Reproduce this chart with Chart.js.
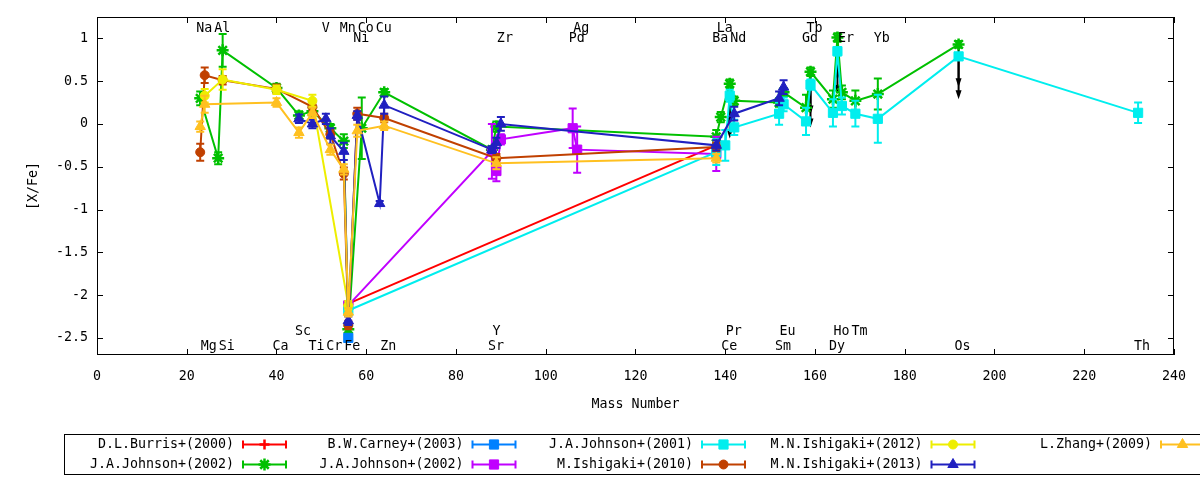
<!DOCTYPE html>
<html lang="en">
<head>
<meta charset="UTF-8">
<title>[X/Fe] vs Mass Number</title>
<script src="https://cdn.jsdelivr.net/npm/chart.js"></script>
<style>
  body { margin: 0; background: #fff; }
  #wrap { width: 1200px; height: 480px; }
</style>
</head>
<body>
<div id="wrap"><canvas id="myChart"></canvas></div>
<script>
// ---- data ----
const xTickVals = [0, 20, 40, 60, 80, 100, 120, 140, 160, 180, 200, 220, 240];
const yTickVals = [1, 0.5, 0, -0.5, -1, -1.5, -2, -2.5];

const burrisMass = [56, 138];
const burrisVal = [-2.10, -0.25];
const burrisErr = [0.03, 0.03];

const johnson02aMass = [23, 27, 28, 40, 45, 48, 52, 55, 56, 59, 64, 88, 89, 138, 139, 141, 142, 152, 153, 158, 159, 164, 165, 166, 169, 174, 192];
const johnson02aVal = [0.30, -0.40, 0.86, 0.42, 0.10, 0.15, -0.05, -0.20, -2.40, -0.05, 0.37, -0.30, -0.03, -0.15, 0.08, 0.47, 0.27, 0.25, 0.37, 0.19, 0.61, 0.29, 1.01, 0.37, 0.27, 0.35, 0.93];
const johnson02aErr = [0.08, 0.07, 0.19, 0.05, 0.05, 0.05, 0.05, 0.08, 0.04, 0.36, 0.04, 0.04, 0.06, 0.08, 0.06, 0.05, 0.05, 0.05, 0.05, 0.15, 0.05, 0.10, 0.05, 0.08, 0.12, 0.18, 0.04];

const carneyMass = [56];
const carneyVal = [-2.50];
const carneyErr = [0.04];

const johnson02bMass = [56, 88, 89, 90, 106, 107, 138];
const johnson02bVal = [-2.12, -0.32, -0.55, -0.18, -0.05, -0.30, -0.35];
const johnson02bErr = [0.05, 0.32, 0.12, 0.06, 0.23, 0.27, 0.20];

const johnson01Mass = [56, 138, 140, 141, 142, 152, 153, 158, 159, 164, 165, 166, 169, 174, 192, 232];
const johnson01Val = [-2.18, -0.33, -0.25, 0.33, -0.04, 0.12, 0.23, 0.03, 0.46, 0.13, 0.85, 0.21, 0.12, 0.06, 0.79, 0.13];
const johnson01Err = [0.03, 0.15, 0.18, 0.07, 0.09, 0.13, 0.08, 0.16, 0.06, 0.16, 0.05, 0.10, 0.15, 0.28, 0.04, 0.12];

const ishi10Mass = [23, 24, 28, 40, 48, 52, 55, 56, 58, 64, 89, 138];
const ishi10Val = [-0.33, 0.57, 0.51, 0.41, 0.20, -0.12, -0.58, -2.35, 0.12, 0.07, -0.40, -0.27];
const ishi10Err = [0.10, 0.09, 0.05, 0.05, 0.05, 0.05, 0.07, 0.05, 0.07, 0.05, 0.05, 0.05];

const ishi12Mass = [24, 28, 40, 48, 56];
const ishi12Val = [0.33, 0.52, 0.40, 0.27, -2.12];
const ishi12Err = [0.08, 0.12, 0.05, 0.07, 0.05];

const ishi13Mass = [45, 48, 51, 52, 55, 56, 58, 63, 64, 88, 89, 90, 138, 142, 152, 153];
const ishi13Val = [0.06, 0.00, 0.06, -0.14, -0.32, -2.30, 0.10, -0.93, 0.22, -0.30, -0.22, 0.00, -0.25, 0.12, 0.30, 0.43];
const ishi13Err = [0.05, 0.05, 0.06, 0.09, 0.10, 0.05, 0.05, 0.03, 0.10, 0.04, 0.06, 0.08, 0.06, 0.08, 0.08, 0.08];

const zhangMass = [23, 24, 40, 45, 48, 52, 55, 56, 58, 64, 89, 138];
const zhangVal = [-0.03, 0.23, 0.25, -0.10, 0.13, -0.30, -0.53, -2.20, -0.08, -0.02, -0.46, -0.40];
const zhangErr = [0.06, 0.10, 0.05, 0.06, 0.06, 0.06, 0.06, 0.05, 0.07, 0.05, 0.07, 0.05];

// upper limits (black arrows)
const limitMass = [141, 141, 159, 159, 165, 165, 192, 192];
const limitVal = [0.47, 0.33, 0.61, 0.46, 1.01, 0.85, 0.93, 0.79];
const limitTip = [-0.03, -0.17, 0.11, -0.04, 0.51, 0.35, 0.43, 0.29];

// element names printed in the plot
const elemNames = ['Na','Mg','Al','Si','Ca','Sc','Ti','V','Cr','Mn','Fe','Co','Ni','Cu','Zn','Sr','Y','Zr','Pd','Ag','Ba','La','Ce','Pr','Nd','Sm','Eu','Gd','Tb','Dy','Ho','Er','Tm','Yb','Os','Th'];
const elemMass = [23,24,27,28,40,45,48,51,52,55,56,59,58,63,64,88,89,90,106,107,138,139,140,141,142,152,153,158,159,164,165,166,169,174,192,232];
const elemY = [1.12,-2.6,1.12,-2.6,-2.6,-2.42,-2.6,1.12,-2.6,1.12,-2.6,1.12,1.0,1.12,-2.6,-2.6,-2.42,1.0,1.0,1.12,1.0,1.12,-2.6,-2.42,1.0,-2.6,-2.42,1.0,1.12,-2.6,-2.42,1.0,-2.42,1.0,-2.6,-2.6];

const FONT = "13.3px 'DejaVu Sans Mono'";

function series(label, mass, val, err, color, style, radius) {
  return {
    label: label,
    data: mass.map((m, i) => ({ x: m, y: val[i] })),
    err: err,
    showLine: true,
    borderColor: color,
    backgroundColor: color,
    borderWidth: 2,
    pointStyle: style,
    pointRadius: radius,
    pointBorderWidth: (style === 'star' || style === 'cross') ? 2.5 : 1,
    pointBackgroundColor: color,
    pointBorderColor: color,
    tension: 0
  };
}

const datasets = [
  series('D.L.Burris+(2000)', burrisMass, burrisVal, burrisErr, '#ff0000', 'cross', 5),
  series('J.A.Johnson+(2002)', johnson02aMass, johnson02aVal, johnson02aErr, '#00c000', 'star', 6),
  series('B.W.Carney+(2003)', carneyMass, carneyVal, carneyErr, '#0080ff', 'rect', 6.5),
  series('J.A.Johnson+(2002)', johnson02bMass, johnson02bVal, johnson02bErr, '#c000ff', 'rect', 6.5),
  series('J.A.Johnson+(2001)', johnson01Mass, johnson01Val, johnson01Err, '#00eeee', 'rect', 6.5),
  series('M.Ishigaki+(2010)', ishi10Mass, ishi10Val, ishi10Err, '#c04000', 'circle', 4.5),
  series('M.N.Ishigaki+(2012)', ishi12Mass, ishi12Val, ishi12Err, '#eeee00', 'circle', 4.5),
  series('M.N.Ishigaki+(2013)', ishi13Mass, ishi13Val, ishi13Err, '#2020c0', 'triangle', 6),
  series('L.Zhang+(2009)', zhangMass, zhangVal, zhangErr, '#ffc020', 'triangle', 6)
];
// later series are drawn on top, as gnuplot does
datasets.forEach((d, i) => { d.order = datasets.length - 1 - i; });

// error bars, drawn just under each dataset's own line and points
const errorBars = {
  id: 'errorBars',
  beforeDatasetDraw(chart, args) {
    const ds = chart.data.datasets[args.index];
    const y = chart.scales.y;
    const ctx = chart.ctx;
    ctx.save();
    ctx.strokeStyle = ds.borderColor;
    ctx.lineWidth = 2;
    ctx.beginPath();
    args.meta.data.forEach((pt, i) => {
      const v = ds.data[i].y, e = ds.err[i];
      const top = y.getPixelForValue(v + e), bot = y.getPixelForValue(v - e);
      ctx.moveTo(pt.x, top); ctx.lineTo(pt.x, bot);
      ctx.moveTo(pt.x - 4, top); ctx.lineTo(pt.x + 4, top);
      ctx.moveTo(pt.x - 4, bot); ctx.lineTo(pt.x + 4, bot);
    });
    ctx.stroke();
    ctx.restore();
  }
};

// upper-limit arrows under everything
const limitArrows = {
  id: 'limitArrows',
  beforeDatasetsDraw(chart) {
    const { ctx, scales: { x, y } } = chart;
    ctx.save();
    ctx.strokeStyle = '#000';
    ctx.fillStyle = '#000';
    ctx.lineWidth = 2;
    limitMass.forEach((m, i) => {
      const px = x.getPixelForValue(m);
      const y0 = y.getPixelForValue(limitVal[i]);
      const y1 = y.getPixelForValue(limitTip[i]);
      ctx.beginPath();
      ctx.moveTo(px, y0); ctx.lineTo(px, y1 - 4);
      ctx.stroke();
      ctx.beginPath();
      ctx.moveTo(px, y1); ctx.lineTo(px - 3, y1 - 9); ctx.lineTo(px + 3, y1 - 9);
      ctx.closePath();
      ctx.fill();
    });
    ctx.restore();
  }
};

// border, inward ticks, element names
const frame = {
  id: 'frame',
  afterDatasetsDraw(chart) {
    const { ctx, chartArea: a, scales: { x, y } } = chart;
    ctx.save();
    ctx.fillStyle = '#000';
    ctx.font = FONT;
    ctx.textAlign = 'left';
    ctx.textBaseline = 'middle';
    elemNames.forEach((n, i) => {
      ctx.fillText(n, x.getPixelForValue(elemMass[i]) - 4, y.getPixelForValue(elemY[i]));
    });
    ctx.strokeStyle = '#000';
    ctx.lineWidth = 1;
    ctx.strokeRect(a.left + 0.5, a.top + 0.5, a.right - a.left - 1, a.bottom - a.top - 1);
    ctx.beginPath();
    xTickVals.forEach(v => {
      const p = Math.round(x.getPixelForValue(v)) + 0.5;
      ctx.moveTo(p, a.bottom); ctx.lineTo(p, a.bottom - 6);
      ctx.moveTo(p, a.top); ctx.lineTo(p, a.top + 6);
    });
    yTickVals.forEach(v => {
      const p = Math.round(y.getPixelForValue(v)) + 0.5;
      ctx.moveTo(a.left, p); ctx.lineTo(a.left + 6, p);
      ctx.moveTo(a.right, p); ctx.lineTo(a.right - 6, p);
    });
    ctx.stroke();
    ctx.restore();
  }
};

// gnuplot style key: two rows, five columns, boxed
const keyBox = {
  id: 'keyBox',
  afterDraw(chart) {
    const ctx = chart.ctx;
    ctx.save();
    ctx.strokeStyle = '#000';
    ctx.lineWidth = 1;
    ctx.strokeRect(64.5, 434.5, 1200, 40);
    ctx.font = FONT;
    ctx.textAlign = 'right';
    ctx.textBaseline = 'middle';
    chart.data.datasets.forEach((ds, i) => {
      const col = Math.floor(i / 2), row = i % 2;
      const xr = 234 + col * 229.5, yc = 444.5 + row * 20;
      ctx.fillStyle = '#000';
      ctx.fillText(ds.label, xr, yc);
      const x0 = xr + 9, x1 = xr + 52, xm = (x0 + x1) / 2;
      ctx.strokeStyle = ds.borderColor;
      ctx.fillStyle = ds.borderColor;
      ctx.lineWidth = 2;
      ctx.beginPath();
      ctx.moveTo(x0, yc); ctx.lineTo(x1, yc);
      ctx.moveTo(x0, yc - 4); ctx.lineTo(x0, yc + 4);
      ctx.moveTo(x1, yc - 4); ctx.lineTo(x1, yc + 4);
      ctx.stroke();
      ctx.lineWidth = ds.pointBorderWidth;
      Chart.helpers.drawPoint(ctx, { pointStyle: ds.pointStyle, radius: ds.pointRadius, rotation: 0, borderWidth: ds.pointBorderWidth }, xm, yc);
    });
    ctx.restore();
  }
};

Chart.defaults.font.family = 'DejaVu Sans Mono';
Chart.defaults.font.size = 13.3;
Chart.defaults.color = '#000';

new Chart(document.getElementById('myChart'), {
  type: 'scatter',
  data: { datasets: datasets },
  options: {
    responsive: true,
    maintainAspectRatio: false,
    animation: false,
    events: [],
    layout: { padding: { top: 17, right: 23, bottom: 0, left: 0 } },
    plugins: {
      legend: { display: false },
      tooltip: { enabled: false }
    },
    scales: {
      x: {
        type: 'linear',
        min: 0,
        max: 240,
        afterBuildTicks: s => { s.ticks = xTickVals.map(v => ({ value: v })); },
        afterFit: s => { s.height = 125; },
        grid: { display: false, drawTicks: false },
        border: { display: false },
        ticks: { padding: 14, autoSkip: false, maxRotation: 0, callback: v => String(v) },
        title: { display: true, text: 'Mass Number', padding: { top: 0, bottom: 67 } }
      },
      y: {
        type: 'linear',
        min: -2.7,
        max: 1.25,
        afterBuildTicks: s => { s.ticks = yTickVals.map(v => ({ value: v })); },
        afterFit: s => { s.width = 97; },
        grid: { display: false, drawTicks: false },
        border: { display: false },
        ticks: { padding: 9, callback: v => String(v) },
        title: { display: true, text: '[X/Fe]', padding: { top: 26, bottom: 0 } }
      }
    }
  },
  plugins: [errorBars, limitArrows, frame, keyBox]
});
</script>
</body>
</html>
